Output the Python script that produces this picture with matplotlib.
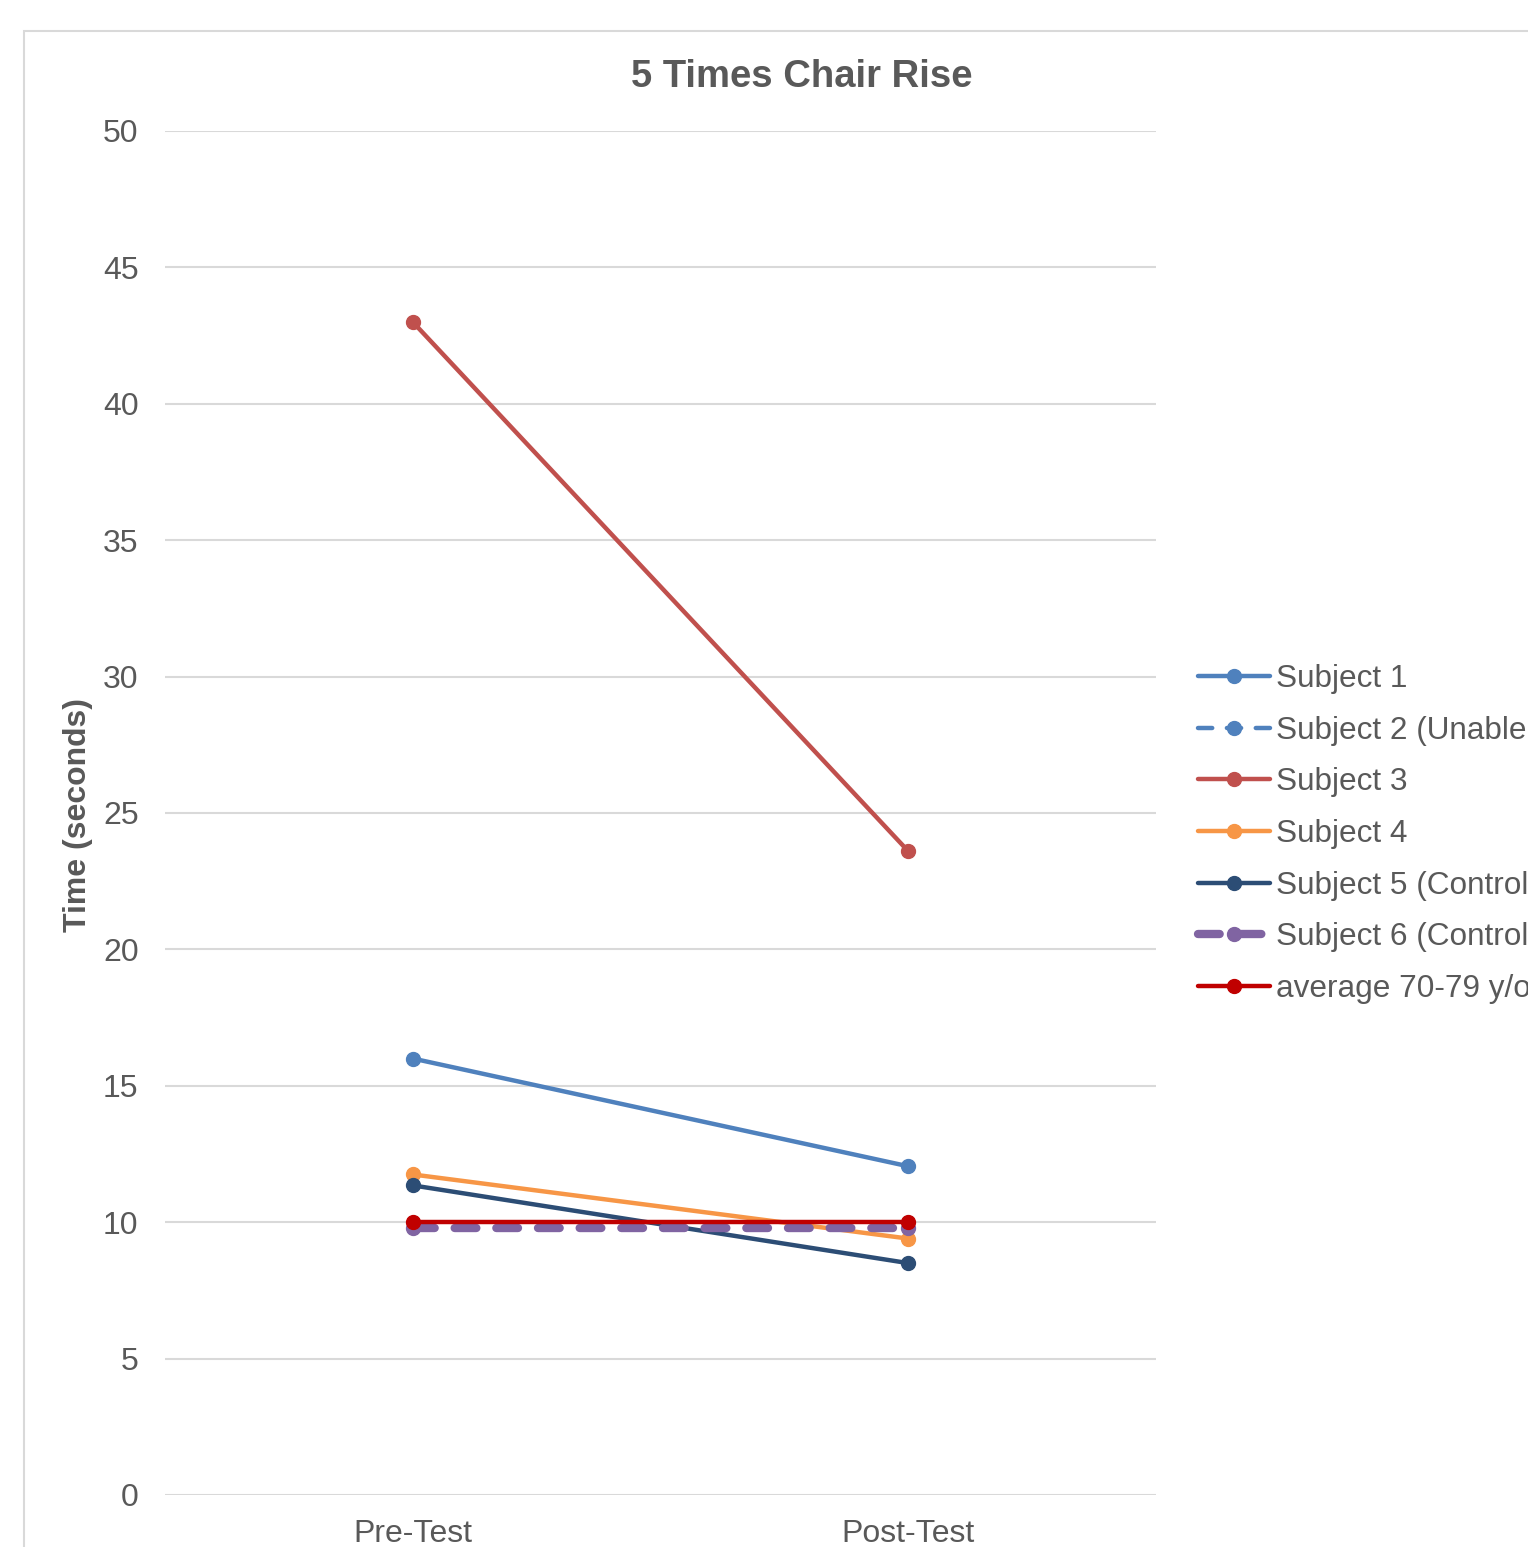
import matplotlib

matplotlib.use("Agg")
import matplotlib.pyplot as plt
from matplotlib.patches import Rectangle
import numpy as np

plt.rcParams["font.family"] = ["Liberation Sans", "DejaVu Sans"]

# Chair rise times (seconds)
phases = ["Pre-Test", "Post-Test"]
subject_1 = [16.0, 12.05]
subject_2 = [np.nan, np.nan]  # unable to complete
subject_3 = [43.0, 23.6]
subject_4 = [11.75, 9.4]
subject_5 = [11.35, 8.5]
subject_6 = [9.8, 9.8]
average_70_79 = [10.0, 10.0]

series = [
    ("Subject 1", subject_1, "#4F81BD", "-", 3.2),
    ("Subject 2 (Unable to complete)", subject_2, "#4F81BD", (0, (3.2, 3.3)), 3.2),
    ("Subject 3", subject_3, "#C0504D", "-", 3.2),
    ("Subject 4", subject_4, "#F79646", "-", 3.2),
    ("Subject 5 (Control)", subject_5, "#2C4D75", "-", 3.2),
    ("Subject 6 (Control)", subject_6, "#8064A2", (0, (2.6, 2.4)), 6.0),
    ("average 70-79 y/o", average_70_79, "#C00000", "-", 3.2),
]

W, H = 1528, 1547
fig = plt.figure(figsize=(W / 100, H / 100), dpi=100)
ax = fig.add_axes([165 / W, 1 - 1495 / H, (1156 - 165) / W, (1495 - 131) / H])

x = np.arange(len(phases))
handles = []
for label, values, color, ls, lw in series:
    (line,) = ax.plot(
        x, values, color=color, linestyle=ls, linewidth=lw,
        marker="o", markersize=10, markerfacecolor=color,
        markeredgecolor=color, label=label, solid_capstyle="round",
        dash_capstyle="round",
    )
    handles.append(line)

ax.set_xlim(-0.5, 1.5)
ax.set_ylim(0, 50)
ax.set_yticks(np.arange(0, 51, 5))
ax.set_xticks(x)
ax.set_xticklabels(phases)
ax.yaxis.grid(True, color="#D9D9D9", linewidth=1.5)
ax.set_axisbelow(True)
for spine in ax.spines.values():
    spine.set_visible(False)
ax.tick_params(axis="both", length=0, labelsize=23, labelcolor="#595959")
ax.tick_params(axis="y", pad=19)
ax.tick_params(axis="x", pad=17)

fig.text(78 / W, 1 - 815 / H, "Time (seconds)", rotation=90, ha="center", va="center",
         fontsize=23, fontweight="bold", color="#595959")
fig.text(802 / W, 1 - 77 / H, "5 Times Chair Rise", ha="center", va="center",
         fontsize=27.5, fontweight="bold", color="#595959")

fig.legend(
    handles=handles, loc="center left",
    bbox_to_anchor=(1198 / W, 1 - 834 / H), bbox_transform=fig.transFigure,
    frameon=False, fontsize=22.7, labelcolor="#595959",
    handlelength=2.29, handletextpad=0.19, labelspacing=0.685,
    borderpad=0, borderaxespad=0,
)

# light chart border running off the right and bottom edges
fig.patches.append(Rectangle((24 / W, -0.1), 2.0, 1.1 - 31 / H,
                             transform=fig.transFigure, fill=False,
                             edgecolor="#D9D9D9", linewidth=1.5))

fig.savefig("out.png", dpi=100)
